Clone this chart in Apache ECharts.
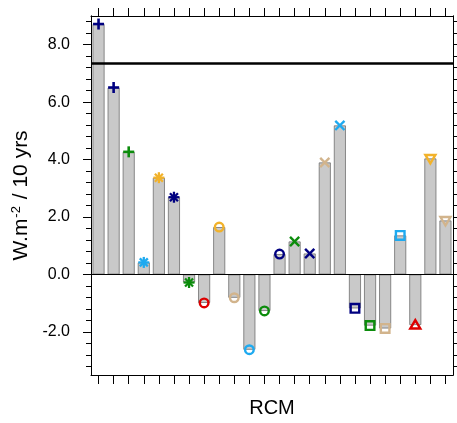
<!DOCTYPE html>
<html>
<head>
<meta charset="utf-8">
<script src="https://cdn.jsdelivr.net/npm/echarts@6/dist/echarts.min.js"></script>
<style>
html,body{margin:0;padding:0;background:#fff;}
#chart{width:457px;height:423px;}
</style>
</head>
<body>
<div id="chart"></div>
<script>
var categories = ['RCM1','RCM2','RCM3','RCM4','RCM5','RCM6','RCM7','RCM8','RCM9','RCM10','RCM11','RCM12',
                  'RCM13','RCM14','RCM15','RCM16','RCM17','RCM18','RCM19','RCM20','RCM21','RCM22','RCM23','RCM24'];
var trendValues = [8.72, 6.51, 4.27, 0.42, 3.37, 2.69, -0.28, -0.99, 1.65, -0.81, -2.62, -1.27,
                   0.71, 1.15, 0.73, 3.90, 5.19, -1.18, -1.78, -1.88, 1.36, -1.76, 4.04, 1.88];
var markerShapes = ['plus','plus','plus','asterisk','asterisk','asterisk','asterisk','circle','circle','circle','circle','circle',
                    'circle','cross','cross','cross','cross','square','square','square','square','triangle','triangleDown','triangleDown'];
var markerColors = ['#000080','#000080','#0c8c0c','#1eaaf0','#f2b22a','#000080','#0c8c0c','#dd0000','#f2b22a','#d2b48c','#1eaaf0','#0c8c0c',
                    '#000080','#0c8c0c','#000080','#d2b48c','#1eaaf0','#000080','#0c8c0c','#d2b48c','#1eaaf0','#dd0000','#f2b22a','#d2b48c'];
var refLineValue = 7.36;
var yMin = -3.5, yMax = 9.0;
var majorTicks = [-2, 0, 2, 4, 6, 8];
var minorTicks = [-3.2,-2.8,-2.4,-2,-1.6,-1.2,-0.8,-0.4,0,0.4,0.8,1.2,1.6,2,2.4,2.8,3.2,3.6,4,4.4,4.8,5.2,5.6,6,6.4,6.8,7.2,7.6,8,8.4,8.8];

var FONT = 'Liberation Sans, Arial, Helvetica, sans-serif';

var markerData = trendValues.map(function (v, i) { return [i, v, i]; });

function renderMarker(params, api) {
  var idx = api.value(2);
  var p = api.coord([api.value(0), api.value(1)]);
  var x = p[0], y = p[1];
  var color = markerColors[idx];
  var shape = markerShapes[idx];
  var lw = 2.4;
  var st = {stroke: color, lineWidth: lw, fill: null};
  var ch = [];
  function line(x1, y1, x2, y2, w) {
    ch.push({type: 'line', shape: {x1: x1, y1: y1, x2: x2, y2: y2}, style: {stroke: color, lineWidth: w || lw}});
  }
  if (shape === 'plus') {
    line(x - 5.5, y, x + 5.5, y, 2.6); line(x, y - 5.5, x, y + 5.5, 2.6);
  } else if (shape === 'asterisk') {
    line(x - 5.5, y, x + 5.5, y, 2.3); line(x, y - 5.5, x, y + 5.5, 2.3);
    line(x - 4, y - 4, x + 4, y + 4, 2.3); line(x - 4, y + 4, x + 4, y - 4, 2.3);
  } else if (shape === 'cross') {
    line(x - 4.6, y - 4.6, x + 4.6, y + 4.6); line(x - 4.6, y + 4.6, x + 4.6, y - 4.6);
  } else if (shape === 'circle') {
    ch.push({type: 'circle', shape: {cx: x, cy: y, r: 4.3}, style: st});
  } else if (shape === 'square') {
    ch.push({type: 'rect', shape: {x: x - 4.3, y: y - 4.3, width: 8.6, height: 8.6}, style: st});
  } else if (shape === 'triangle') {
    ch.push({type: 'polygon', shape: {points: [[x, y - 5], [x + 5, y + 3.5], [x - 5, y + 3.5]]}, style: st});
  } else if (shape === 'triangleDown') {
    ch.push({type: 'polygon', shape: {points: [[x, y + 5], [x + 5, y - 3.5], [x - 5, y - 3.5]]}, style: st});
  }
  return {type: 'group', children: ch};
}

function yAxisBase(position, ticks, len, showLabel) {
  return {
    type: 'value', position: position, min: yMin, max: yMax,
    axisLine: {show: true, onZero: false, lineStyle: {color: '#000', width: 1}},
    axisTick: {show: true, inside: false, length: len, customValues: ticks, lineStyle: {color: '#000', width: 1}},
    axisLabel: {show: showLabel, customValues: majorTicks, margin: 21, padding: [7, 0, 0, 0],
      formatter: function (v) { return v.toFixed(1); },
      fontFamily: FONT, fontSize: 16, color: '#000'},
    splitLine: {show: false}
  };
}

var yAxes = [
  yAxisBase('left', majorTicks, 8, true),
  yAxisBase('left', minorTicks, 5, false),
  yAxisBase('right', majorTicks, 8, false),
  yAxisBase('right', minorTicks, 5, false)
];
yAxes[0].name = '{a|W.m}{s|-2}{a| / 10 yrs}';
yAxes[0].nameLocation = 'middle';
yAxes[0].nameGap = 57;
yAxes[0].nameTextStyle = {
  fontFamily: FONT, fontSize: 21, color: '#000',
  rich: {
    a: {fontFamily: FONT, fontSize: 21, color: '#000'},
    s: {fontFamily: FONT, fontSize: 13, color: '#000', padding: [0, 1, 9, 1]}
  }
};

var option = {
  animation: false,
  backgroundColor: '#fff',
  grid: {left: 91, right: 4, top: 16, bottom: 45, containLabel: false},
  xAxis: [
    {
      type: 'category', data: categories, position: 'bottom', boundaryGap: true,
      name: 'RCM', nameLocation: 'middle', nameGap: 23,
      nameTextStyle: {fontFamily: FONT, fontSize: 20, color: '#000'},
      axisLine: {show: true, onZero: false, lineStyle: {color: '#000', width: 1}},
      axisTick: {show: true, inside: false, alignWithLabel: true, length: 9, interval: 0, lineStyle: {color: '#000'}},
      axisLabel: {show: false},
      splitLine: {show: false}
    },
    {
      type: 'category', data: categories, position: 'top', boundaryGap: true,
      axisLine: {show: true, onZero: false, lineStyle: {color: '#000', width: 1}},
      axisTick: {show: true, inside: false, alignWithLabel: true, length: 8, interval: 0, lineStyle: {color: '#000'}},
      axisLabel: {show: false},
      splitLine: {show: false}
    }
  ],
  yAxis: yAxes,
  series: [
    {
      type: 'bar', xAxisIndex: 0, yAxisIndex: 0, data: trendValues, barWidth: 12,
      itemStyle: {color: '#c9c9c9', borderColor: '#707070', borderWidth: 0.8},
      markLine: {
        silent: true, symbol: 'none', label: {show: false}, animation: false,
        data: [
          {yAxis: 0, lineStyle: {color: '#000', width: 1, type: 'solid'}},
          {yAxis: refLineValue, lineStyle: {color: '#000', width: 2.5, type: 'solid'}}
        ]
      },
      z: 2
    },
    {
      type: 'custom', xAxisIndex: 0, yAxisIndex: 0, data: markerData,
      encode: {x: 0, y: 1},
      renderItem: renderMarker, clip: false, z: 5
    }
  ]
};

var chart = echarts.init(document.getElementById('chart'), null, {renderer: 'canvas'});
chart.setOption(option);
</script>
</body>
</html>
